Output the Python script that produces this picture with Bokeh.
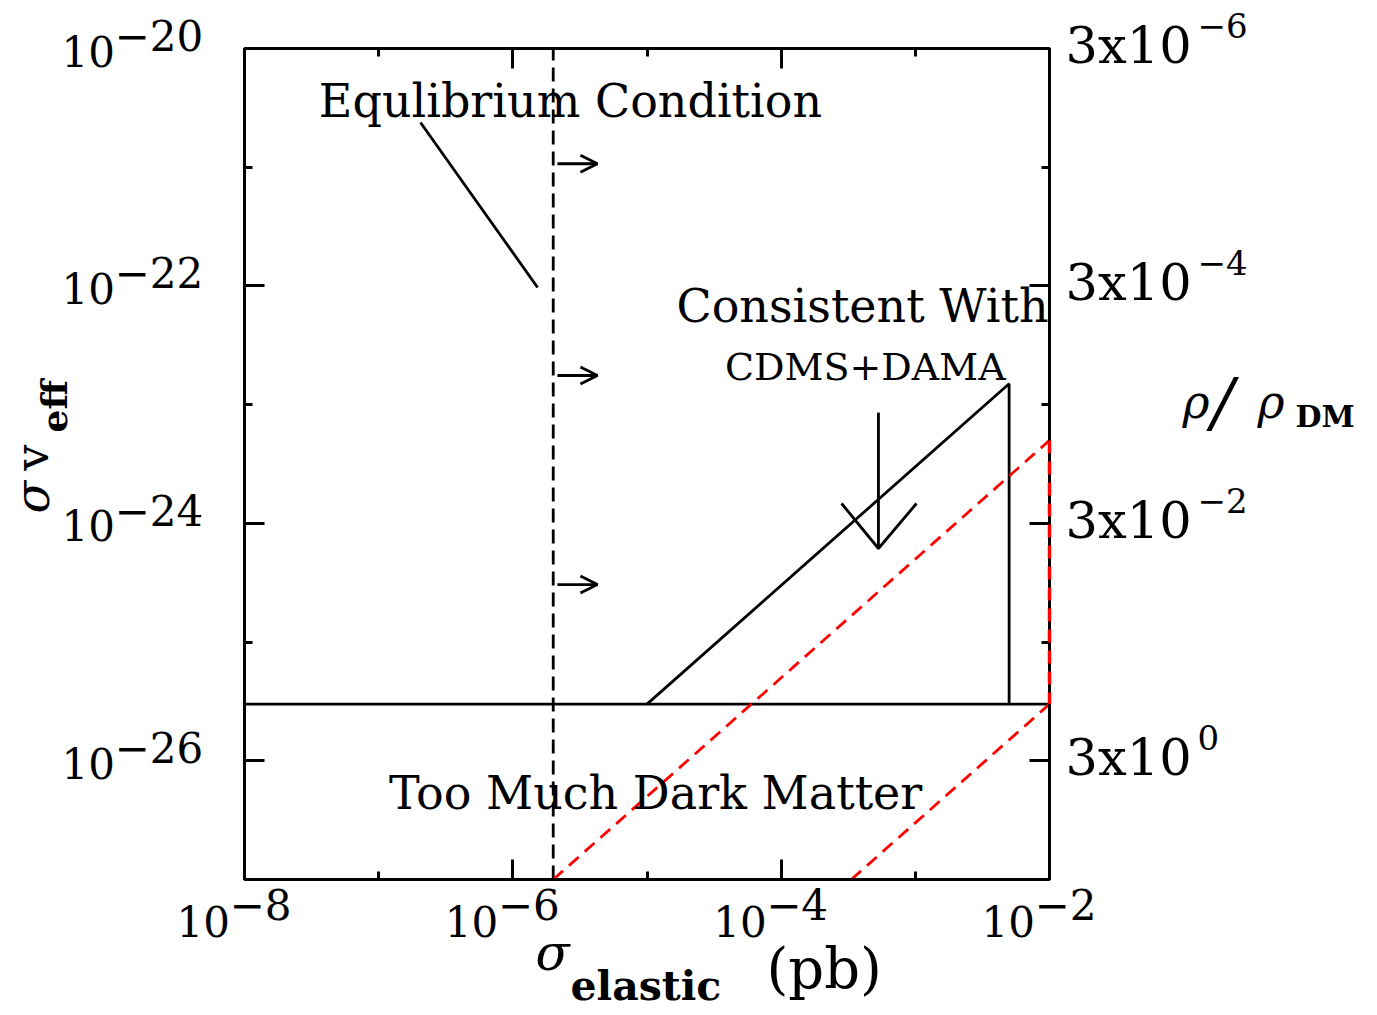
import math
from bokeh.plotting import figure
from bokeh.models import (Range1d, LogAxis, FixedTicker, CustomJSTickFormatter,
                          Label, Arrow, OpenHead, ColumnDataSource)
from bokeh.core.properties import value
from bokeh.embed import file_html
from bokeh.resources import INLINE

# ---------------- data ----------------
x_lo, x_hi = 1e-8, 1e-2          # sigma_elastic range (pb)
y_lo, y_hi = 1e-27, 1e-20        # sigma v_eff range
sigma_equilibrium = 2e-6         # vertical dashed line
sv_thermal = 3e-26               # horizontal solid line
equil_y = [1e-27, 1e-20]
thermal_x = [1e-8, 1e-2]
cdms_x = [1e-5, 5e-3, 5e-3]
cdms_y = [3e-26, 1.5e-23, 3e-26]
bound1_x = [2e-6, 1e-2]
bound1_y = [1e-27, 5e-24]
bound2_x = [3.33e-4, 1e-2]
bound2_y = [1e-27, 3e-26]
edge_x = [1e-2, 1e-2]
edge_y = [5e-24, 3e-26]
arrow_x0 = [2.15e-6, 2.15e-6, 2.15e-6]
arrow_x1 = [4.27e-6, 4.27e-6, 4.27e-6]
arrow_y = [1.07e-21, 1.76e-23, 3.05e-25]
down_x = [5.31e-4, 5.31e-4]
down_y = [8.57e-24, 6.14e-25]
head_x = [2.82e-4, 5.31e-4, 1.02e-3]
head_y = [1.47e-24, 6.14e-25, 1.47e-24]
leader_x = [2.05e-7, 1.53e-6]
leader_y = [2.38e-21, 9.7e-23]

x_ticks = [1e-8, 1e-6, 1e-4, 1e-2]
x_minor = [1e-7, 1e-5, 1e-3]
y_ticks = [1e-20, 1e-22, 1e-24, 1e-26]
y_minor = [1e-21, 1e-23, 1e-25]
x_tick_exp = ["\u22128", "\u22126", "\u22124", "\u22122"]
y_tick_exp = ["\u221220", "\u221222", "\u221224", "\u221226"]
rho_tick_exp = ["\u22126", "\u22124", "\u22122", "0"]

# ---------------- layout ----------------
W, H = 1377, 1015
FL, FR, FT, FB = 244, 1049, 48, 879   # frame edges in page pixels
FONT = "DejaVu Serif"
LW = 2.8

p = figure(width=W, height=H, x_axis_type="log", y_axis_type="log",
           x_range=Range1d(x_lo, x_hi), y_range=Range1d(y_lo, y_hi),
           output_backend="svg", toolbar_location=None,
           min_border_left=FL, min_border_right=W - FR,
           min_border_top=FT, min_border_bottom=H - FB)
p.grid.visible = False
p.background_fill_color = "white"
p.border_fill_color = "white"
p.outline_line_color = "black"
p.outline_line_width = 3

blank = CustomJSTickFormatter(code="return ''")


def style_axis(ax, xdir):
    ax.ticker = FixedTicker(ticks=x_ticks if xdir else y_ticks,
                            minor_ticks=x_minor if xdir else y_minor)
    ax.formatter = blank
    ax.axis_line_color = "black"
    ax.axis_line_width = 3
    ax.major_tick_line_color = "black"
    ax.major_tick_line_width = 3
    ax.minor_tick_line_color = "black"
    ax.minor_tick_line_width = 3
    ax.major_tick_in = 20
    ax.major_tick_out = 0
    ax.minor_tick_in = 8
    ax.minor_tick_out = 0
    ax.major_label_standoff = 0
    ax.major_label_text_font_size = "1px"


style_axis(p.xaxis[0], True)
style_axis(p.yaxis[0], False)
top_ax = LogAxis()
style_axis(top_ax, True)
p.add_layout(top_ax, "above")
right_ax = LogAxis()
style_axis(right_ax, False)
p.add_layout(right_ax, "right")

# ---------------- marks ----------------
p.line([sigma_equilibrium, sigma_equilibrium], equil_y, line_color="black",
       line_width=LW, line_dash="14 7")
p.line(thermal_x, [sv_thermal, sv_thermal], line_color="black", line_width=LW)
p.line(cdms_x, cdms_y, line_color="black", line_width=LW)
p.line(bound1_x, bound1_y, line_color="#ff0000", line_width=LW, line_dash="13 8")
p.line(bound2_x, bound2_y, line_color="#ff0000", line_width=LW, line_dash="13 8")
p.line(edge_x, edge_y, line_color="#ff0000", line_width=3.5, line_dash="13 8",
       level="overlay")
p.line(down_x, down_y, line_color="black", line_width=LW)
p.line(head_x, head_y, line_color="black", line_width=LW)
p.line(leader_x, leader_y, line_color="black", line_width=LW)

arr_src = ColumnDataSource(dict(x0=arrow_x0, x1=arrow_x1, y=arrow_y))
p.add_layout(Arrow(end=OpenHead(size=17, line_width=LW, line_color="black"),
                   x_start="x0", y_start="y", x_end="x1", y_end="y",
                   source=arr_src, line_width=LW, line_color="black"))


def xpix(v):
    return FL + (math.log10(v) - math.log10(x_lo)) / (math.log10(x_hi) - math.log10(x_lo)) * (FR - FL)


def ypix(v):
    return FB - (math.log10(v) - math.log10(y_lo)) / (math.log10(y_hi) - math.log10(y_lo)) * (FB - FT)


def xdata(px):
    return 10 ** (math.log10(x_lo) + (px - FL) / (FR - FL) * (math.log10(x_hi) - math.log10(x_lo)))


def ydata(py):
    return 10 ** (math.log10(y_lo) + (FB - py) / (FB - FT) * (math.log10(y_hi) - math.log10(y_lo)))


def lab(text, x, y, size="46px", style="normal", align="center"):
    """Text inside the frame, in data coordinates."""
    p.add_layout(Label(x=x, y=y, text=text, text_font=FONT,
                       text_font_size=size, text_font_style=style,
                       text_align=align, text_baseline="alphabetic",
                       text_color="black"))


def gtext(text, px, py, size="42px", style="normal", angle=0.0):
    """Text outside the frame: a text glyph drawn on the overlay level."""
    p.text(x=[xdata(px)], y=[ydata(py)], text=[text], angle=angle,
           text_font=value(FONT), text_font_size=value(size),
           text_font_style=value(style), text_align="left",
           text_baseline="alphabetic", text_color="black", level="overlay")


# in-plot annotations
lab("Equlibrium Condition", 2.69e-6, 3.61e-21)
lab("Consistent With", 4.04e-4, 6.84e-23)
lab("CDMS+DAMA", 4.24e-4, 2.09e-23, size="38px")
lab("Too Much Dark Matter", 1.16e-5, 5.35e-27)

# tick labels: left
for t, e in zip(y_ticks, y_tick_exp):
    gtext("10", 61, ypix(t) + 2.5)
    gtext(e, 114, ypix(t) - 13)
# tick labels: bottom
for t, e in zip(x_ticks, x_tick_exp):
    gtext("10", xpix(t) - 68, 921)
    gtext(e, xpix(t) - 15, 904)
# tick labels: right (rho/rho_DM)
for t, e in zip(y_ticks, rho_tick_exp):
    gtext("3x10", 1065, ypix(t) - 3, size="51px")
    gtext(e, 1197, ypix(t) - 23, size="34px")

# axis titles
gtext("\u03c3", 535, 952, size="50px", style="italic")
gtext("elastic", 570, 985, size="41px", style="bold")
gtext("(pb)", 766, 968, size="56px")

gtext("\u03c3", 31, 513, size="48px", style="italic", angle=math.pi / 2)
gtext("v", 31, 470, size="46px", angle=math.pi / 2)
gtext("eff", 53, 432, size="36px", style="bold", angle=math.pi / 2)

gtext("\u03c1", 1182, 401, size="46px", style="italic")
gtext("/", 1211, 402, size="66px", style="italic")
gtext("\u03c1", 1257, 401, size="46px", style="italic")
gtext("DM", 1295, 416, size="30px", style="bold")

open("out.html", "w").write(file_html(p, INLINE))
